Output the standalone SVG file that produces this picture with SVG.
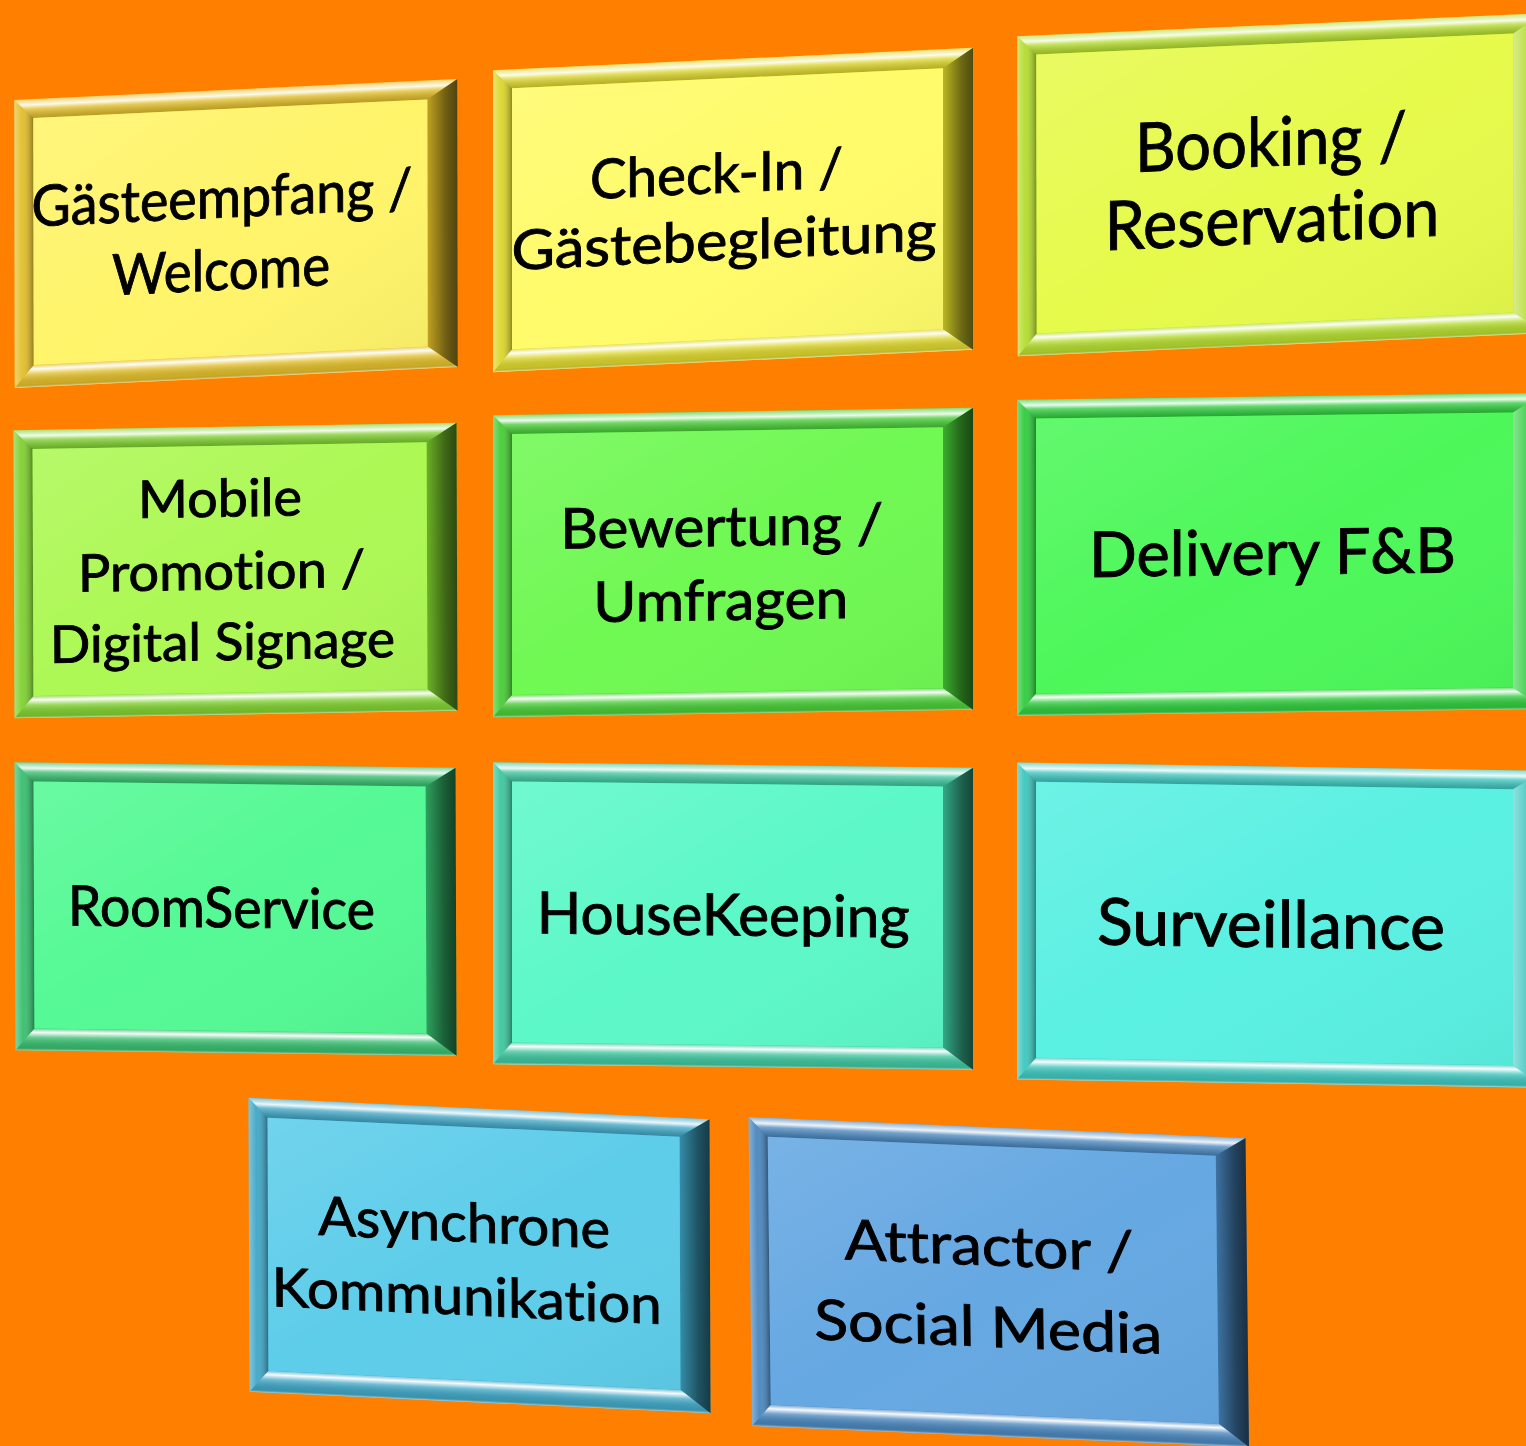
<svg xmlns="http://www.w3.org/2000/svg" width="1526" height="1446" viewBox="0 0 1526 1446">
<defs>
<linearGradient id="gTop" x1="0" y1="0" x2="0" y2="1">
<stop offset="0" stop-color="#fff" stop-opacity="0.35"/><stop offset="0.3" stop-color="#fff" stop-opacity="0.9"/><stop offset="0.5" stop-color="#fff" stop-opacity="0.25"/><stop offset="1" stop-color="#000" stop-opacity="0.18"/>
</linearGradient>
<linearGradient id="gBot" x1="0" y1="0" x2="0" y2="1">
<stop offset="0" stop-color="#fff" stop-opacity="0.3"/><stop offset="0.18" stop-color="#fff" stop-opacity="0.95"/><stop offset="0.4" stop-color="#fff" stop-opacity="0.25"/><stop offset="0.85" stop-color="#000" stop-opacity="0.1"/><stop offset="1" stop-color="#fff" stop-opacity="0.5"/>
</linearGradient>
<linearGradient id="gLeft" x1="0" y1="0" x2="1" y2="0">
<stop offset="0" stop-color="#fff" stop-opacity="0.35"/><stop offset="0.4" stop-color="#fff" stop-opacity="0.05"/><stop offset="1" stop-color="#000" stop-opacity="0.35"/>
</linearGradient>
<linearGradient id="gRight" x1="0" y1="0" x2="1" y2="0">
<stop offset="0" stop-color="#000" stop-opacity="0.15"/><stop offset="0.6" stop-color="#000" stop-opacity="0.5"/><stop offset="1" stop-color="#000" stop-opacity="0.65"/>
</linearGradient>
<linearGradient id="gRight3" x1="0" y1="0" x2="1" y2="0">
<stop offset="0" stop-color="#fff" stop-opacity="0.45"/><stop offset="0.5" stop-color="#fff" stop-opacity="0.1"/><stop offset="1" stop-color="#000" stop-opacity="0.3"/>
</linearGradient>
<linearGradient id="gFace" x1="0" y1="0" x2="1" y2="1">
<stop offset="0" stop-color="#fff" stop-opacity="0.12"/><stop offset="0.5" stop-color="#fff" stop-opacity="0"/><stop offset="1" stop-color="#000" stop-opacity="0.04"/>
</linearGradient>
</defs>
<style>
.top{fill:url(#gTop)}
.bot{fill:url(#gBot)}
.lft{fill:url(#gLeft)}
.rgt{fill:url(#gRight)}
.rgt3{fill:url(#gRight3)}
.shade{fill:url(#gFace)}
.lbl{font-family:Lato,"Liberation Sans",sans-serif;fill:#000;stroke:#000;stroke-width:0.9;text-anchor:middle;font-variant-ligatures:none;font-feature-settings:"liga" 0,"clig" 0}
</style>
<rect width="1526" height="1446" fill="#FF8000"/>
<g id="connectors"/>

<g id="node-gaesteempfang" transform="matrix(1,-0.0475,0.0017,1,14.25,100)">
<rect width="443" height="288" fill="#E2BE28"/>
<polygon class="top" points="0,0 443,0 413,19 19,19"/>
<polygon class="rgt" points="443,0 443,288 413,266 413,19"/>
<polygon class="bot" points="0,288 19,266 413,266 443,288"/>
<polygon class="lft" points="0,0 19,19 19,266 0,288"/>
<rect x="19" y="19" width="394" height="247" fill="#FFF46A"/>
<rect class="shade" x="19" y="19" width="394" height="247"/>
<text class="lbl" x="207.5" y="127.4" font-size="57" textLength="381" lengthAdjust="spacingAndGlyphs">Gästeempfang /</text>
<text class="lbl" x="206.5" y="199.8" font-size="57" textLength="218" lengthAdjust="spacingAndGlyphs">Welcome</text>
</g>

<g id="node-checkin" transform="matrix(1,-0.0469,0,1,493,70.25)">
<rect width="480" height="302" fill="#DCD62A"/>
<polygon class="top" points="0,0 480,0 450,19 19,19"/>
<polygon class="rgt" points="480,0 480,302 450,280 450,19"/>
<polygon class="bot" points="0,302 19,280 450,280 480,302"/>
<polygon class="lft" points="0,0 19,19 19,280 0,302"/>
<rect x="19" y="19" width="431" height="261" fill="#FFFB6A"/>
<rect class="shade" x="19" y="19" width="431" height="261"/>
<text class="lbl" x="223.5" y="133.2" font-size="55" textLength="253" lengthAdjust="spacingAndGlyphs">Check-In /</text>
<text class="lbl" x="231" y="200.6" font-size="55" textLength="425" lengthAdjust="spacingAndGlyphs">Gästebegleitung</text>
</g>

<g id="node-booking" transform="matrix(1,-0.0439,0.0016,1,1017.25,36.25)">
<rect width="526" height="320" fill="#B4DC2C"/>
<polygon class="top" points="0,0 526,0 496,19 19,19"/>
<polygon class="rgt3" points="526,0 526,320 496,298 496,19"/>
<polygon class="bot" points="0,320 19,298 496,298 526,320"/>
<polygon class="lft" points="0,0 19,19 19,298 0,320"/>
<rect x="19" y="19" width="477" height="279" fill="#E6FA4C"/>
<rect class="shade" x="19" y="19" width="477" height="279"/>
<text class="lbl" x="253.5" y="140.9" font-size="68" textLength="272" lengthAdjust="spacingAndGlyphs">Booking /</text>
<text class="lbl" x="254.3" y="217.9" font-size="68" textLength="335" lengthAdjust="spacingAndGlyphs">Reservation</text>
</g>

<g id="node-mobile" transform="matrix(1,-0.0169,0.0035,1,13.5,430.25)">
<rect width="443" height="288" fill="#7ED02E"/>
<polygon class="top" points="0,0 443,0 413,19 19,19"/>
<polygon class="rgt" points="443,0 443,288 413,266 413,19"/>
<polygon class="bot" points="0,288 19,266 413,266 443,288"/>
<polygon class="lft" points="0,0 19,19 19,266 0,288"/>
<rect x="19" y="19" width="394" height="247" fill="#ADF855"/>
<rect class="shade" x="19" y="19" width="394" height="247"/>
<text class="lbl" x="206.2" y="89.9" font-size="52" textLength="164" lengthAdjust="spacingAndGlyphs">Mobile</text>
<text class="lbl" x="207.5" y="162.6" font-size="52" textLength="287" lengthAdjust="spacingAndGlyphs">Promotion /</text>
<text class="lbl" x="208.2" y="233.3" font-size="52" textLength="345" lengthAdjust="spacingAndGlyphs">Digital Signage</text>
</g>

<g id="node-bewertung" transform="matrix(1,-0.0156,0,1,493,415.25)">
<rect width="480" height="302" fill="#46CC34"/>
<polygon class="top" points="0,0 480,0 450,19 19,19"/>
<polygon class="rgt" points="480,0 480,302 450,280 450,19"/>
<polygon class="bot" points="0,302 19,280 450,280 480,302"/>
<polygon class="lft" points="0,0 19,19 19,280 0,302"/>
<rect x="19" y="19" width="431" height="261" fill="#70F853"/>
<rect class="shade" x="19" y="19" width="431" height="261"/>
<text class="lbl" x="228.7" y="134.3" font-size="56" textLength="323" lengthAdjust="spacingAndGlyphs">Bewertung /</text>
<text class="lbl" x="227.8" y="208.3" font-size="56" textLength="255" lengthAdjust="spacingAndGlyphs">Umfragen</text>
</g>

<g id="node-delivery" transform="matrix(1,-0.0127,0,1,1017,399.75)">
<rect width="526" height="316" fill="#2ECC3C"/>
<polygon class="top" points="0,0 526,0 496,19 19,19"/>
<polygon class="rgt3" points="526,0 526,316 496,294 496,19"/>
<polygon class="bot" points="0,316 19,294 496,294 526,316"/>
<polygon class="lft" points="0,0 19,19 19,294 0,316"/>
<rect x="19" y="19" width="477" height="275" fill="#4DF75A"/>
<rect class="shade" x="19" y="19" width="477" height="275"/>
<text class="lbl" x="255.5" y="178.1" font-size="63" textLength="367" lengthAdjust="spacingAndGlyphs">Delivery F&amp;B</text>
</g>

<g id="node-roomservice" transform="matrix(1,0.0125,0.0035,1,14.5,762.25)">
<rect width="441" height="288" fill="#36BE6E"/>
<polygon class="top" points="0,0 441,0 411,19 19,19"/>
<polygon class="rgt" points="441,0 441,288 411,266 411,19"/>
<polygon class="bot" points="0,288 19,266 411,266 441,288"/>
<polygon class="lft" points="0,0 19,19 19,266 0,288"/>
<rect x="19" y="19" width="392" height="247" fill="#55F995"/>
<rect class="shade" x="19" y="19" width="392" height="247"/>
<text class="lbl" x="206.5" y="162.5" font-size="56" textLength="307" lengthAdjust="spacingAndGlyphs">RoomService</text>
</g>

<g id="node-housekeeping" transform="matrix(1,0.0115,0,1,493,762.25)">
<rect width="480" height="302" fill="#3CC69E"/>
<polygon class="top" points="0,0 480,0 450,19 19,19"/>
<polygon class="rgt" points="480,0 480,302 450,280 450,19"/>
<polygon class="bot" points="0,302 19,280 450,280 480,302"/>
<polygon class="lft" points="0,0 19,19 19,280 0,302"/>
<rect x="19" y="19" width="431" height="261" fill="#5DF8C8"/>
<rect class="shade" x="19" y="19" width="431" height="261"/>
<text class="lbl" x="230.3" y="170.4" font-size="58" textLength="373" lengthAdjust="spacingAndGlyphs">HouseKeeping</text>
</g>

<g id="node-surveillance" transform="matrix(1,0.0156,0,1,1017,762.5)">
<rect width="526" height="317" fill="#3CC6BE"/>
<polygon class="top" points="0,0 526,0 496,19 19,19"/>
<polygon class="rgt3" points="526,0 526,317 496,295 496,19"/>
<polygon class="bot" points="0,317 19,295 496,295 526,317"/>
<polygon class="lft" points="0,0 19,19 19,295 0,317"/>
<rect x="19" y="19" width="477" height="276" fill="#5AF0E2"/>
<rect class="shade" x="19" y="19" width="477" height="276"/>
<text class="lbl" x="254" y="180.8" font-size="65" textLength="348" lengthAdjust="spacingAndGlyphs">Surveillance</text>
</g>

<g id="node-asynchrone" transform="matrix(1,0.0466,0.0034,1,248.5,1097.75)">
<rect width="461" height="294" fill="#3EA6C6"/>
<polygon class="top" points="0,0 461,0 431,19 19,19"/>
<polygon class="rgt" points="461,0 461,294 431,272 431,19"/>
<polygon class="bot" points="0,294 19,272 431,272 461,294"/>
<polygon class="lft" points="0,0 19,19 19,272 0,294"/>
<rect x="19" y="19" width="412" height="253" fill="#5ECDEA"/>
<rect class="shade" x="19" y="19" width="412" height="253"/>
<text class="lbl" x="215.2" y="133.9" font-size="54" textLength="292" lengthAdjust="spacingAndGlyphs">Asynchrone</text>
<text class="lbl" x="217.5" y="207.1" font-size="54" textLength="390" lengthAdjust="spacingAndGlyphs">Kommunikation</text>
</g>

<g id="node-attractor" transform="matrix(1,0.0423,0.0113,1,748.5,1117)">
<rect width="497" height="309" fill="#4886BE"/>
<polygon class="top" points="0,0 497,0 467,19 19,19"/>
<polygon class="rgt" points="497,0 497,309 467,287 467,19"/>
<polygon class="bot" points="0,309 19,287 467,287 497,309"/>
<polygon class="lft" points="0,0 19,19 19,287 0,309"/>
<rect x="19" y="19" width="448" height="268" fill="#66A8E2"/>
<rect class="shade" x="19" y="19" width="448" height="268"/>
<text class="lbl" x="239.2" y="138.3" font-size="56" textLength="289" lengthAdjust="spacingAndGlyphs">Attractor /</text>
<text class="lbl" x="237.5" y="219.5" font-size="56" textLength="348" lengthAdjust="spacingAndGlyphs">Social Media</text>
</g>
</svg>
